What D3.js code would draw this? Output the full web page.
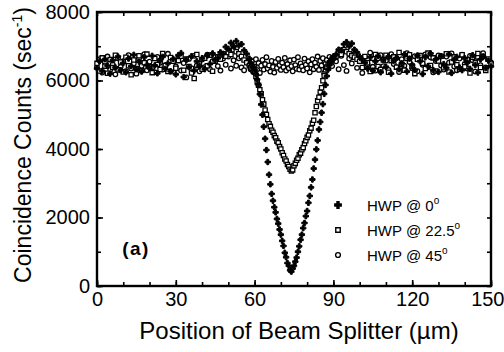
<!DOCTYPE html>
<html>
<head>
<meta charset="utf-8">
<script src="https://d3js.org/d3.v7.min.js"></script>
<style>
  body { margin: 0; background: #fff; }
  text { font-family: "Liberation Sans", Arial, sans-serif; fill: #000; }
</style>
</head>
<body>
<div id="chart"></div>
<script>
// scan positions of the beam splitter (um), finer steps across the dip
const positions = [
  0, 1, 2, 3, 4, 5, 6, 7, 8, 9, 10, 11, 12, 13, 14, 15, 16, 17, 18, 19,
  20, 21, 22, 23, 24, 25, 26, 27, 28, 29, 30, 31, 32, 33, 34, 35, 36, 37, 38, 39,
  40, 41, 42, 43, 44, 45, 46, 47, 48, 49, 50, 51, 52, 53, 54, 55, 56, 57,
  58, 58.5, 59, 59.5, 60, 60.5, 61, 61.5, 62, 62.5,
  63, 63.5, 64, 64.5, 65, 65.5, 66, 66.5, 67, 67.5,
  68, 68.5, 69, 69.5, 70, 70.5, 71, 71.5, 72, 72.5,
  73, 73.5, 74, 74.5, 75, 75.5, 76, 76.5, 77, 77.5,
  78, 78.5, 79, 79.5, 80, 80.5, 81, 81.5, 82, 82.5,
  83, 83.5, 84, 84.5, 85, 85.5, 86, 86.5, 87, 87.5,
  88, 88.5, 89, 89.5, 90,
  91, 92, 93, 94, 95, 96, 97, 98, 99, 100,
  101, 102, 103, 104, 105, 106, 107, 108, 109, 110,
  111, 112, 113, 114, 115, 116, 117, 118, 119, 120,
  121, 122, 123, 124, 125, 126, 127, 128, 129, 130,
  131, 132, 133, 134, 135, 136, 137, 138, 139, 140,
  141, 142, 143, 144, 145, 146, 147, 148, 149, 150
];

// coincidence counts (1/sec), HWP @ 0 deg
const counts0 = [
  6350, 6560, 6280, 6620, 6430, 6200, 6590, 6380, 6700, 6300,
  6510, 6240, 6640, 6420, 6750, 6330, 6550, 6260, 6680, 6450,
  6360, 6720, 6440, 6210, 6580, 6690, 6340, 6500, 6270, 6630,
  6180, 6740, 6800, 6100, 6600, 6390, 6710, 6290, 6560, 6420,
  6650, 6330, 6730, 6480, 6790, 6600, 6650, 6820, 6780, 6980,
  6920, 7100, 7000, 7150, 7020, 7060, 6880, 6780,
  6640, 6520, 6450, 6380, 6300, 6180, 6030, 5870, 5600, 5300,
  5000, 4650, 4300, 3970, 3620, 3250, 2970, 2690, 2490, 2300,
  2150, 1960, 1820, 1650, 1500, 1320, 1170, 970, 840, 670,
  590, 460, 420, 510, 590, 710, 830, 1000, 1160, 1350,
  1500, 1690, 1840, 2040, 2190, 2430, 2630, 2880, 3110, 3430,
  3690, 3990, 4250, 4570, 4790, 5060, 5310, 5610, 5870, 6130,
  6320, 6450, 6560, 6620, 6700,
  6760, 6900, 6880, 7060, 7120, 7000, 7080, 6900, 6820, 6700,
  6600, 6520, 6350, 6680, 6290, 6560, 6720, 6240, 6610, 6400,
  6700, 6200, 6580, 6660, 6330, 6500, 6760, 6260, 6640, 6450,
  6310, 6730, 6560, 6190, 6680, 6420, 6790, 6300, 6620, 6250,
  6710, 6480, 6370, 6770, 6220, 6600, 6690, 6380, 6300, 6650,
  6520, 6340, 6740, 6450, 6230, 6620, 6700, 6360, 6580, 6410
];

// HWP @ 22.5 deg
const counts225 = [
  6500, 6280, 6660, 6420, 6210, 6610, 6380, 6740, 6310, 6540,
  6250, 6680, 6430, 6170, 6600, 6350, 6720, 6290, 6520, 6770,
  6400, 6230, 6640, 6470, 6320, 6790, 6440, 6260, 6670, 6560,
  6360, 6580, 6710, 6300, 6630, 6410, 6220, 6060, 6760, 6480,
  6330, 6650, 6430, 6740, 6270, 6560, 6690, 6620, 6780, 6710,
  6820, 6760, 6900, 6840, 6780, 6700, 6600, 6520,
  6430, 6380, 6350, 6300, 6260, 6120, 5960, 5860, 5730, 5610,
  5440, 5310, 5140, 5010, 4860, 4740, 4660, 4550, 4490, 4390,
  4330, 4230, 4180, 4070, 4000, 3890, 3810, 3710, 3650, 3550,
  3490, 3410, 3360, 3390, 3510, 3580, 3670, 3730, 3830, 3880,
  3980, 4040, 4160, 4240, 4340, 4410, 4530, 4610, 4750, 4840,
  5060, 5240, 5410, 5510, 5660, 5790, 5990, 6140, 6310, 6390,
  6460, 6520, 6580, 6620, 6660,
  6700, 6820, 6760, 6900, 6840, 6780, 6720, 6680, 6620, 6560,
  6380, 6700, 6520, 6260, 6650, 6760, 6410, 6320, 6600, 6740,
  6240, 6580, 6690, 6390, 6820, 6470, 6300, 6640, 6750, 6420,
  6200, 6620, 6730, 6500, 6350, 6800, 6440, 6660, 6280, 6570,
  6710, 6370, 6780, 6250, 6540, 6690, 6460, 6330, 6750, 6400,
  6610, 6220, 6680, 6520, 6790, 6380, 6700, 6290, 6630, 6480
];

// HWP @ 45 deg
const counts45 = [
  6380, 6620, 6230, 6540, 6700, 6310, 6470, 6180, 6650, 6400,
  6560, 6270, 6740, 6350, 6500, 6200, 6640, 6430, 6770, 6300,
  6550, 6380, 6240, 6690, 6520, 6320, 6450, 6780, 6260, 6600,
  6410, 6680, 6290, 6510, 6090, 6630, 6360, 6720, 6440, 6270,
  6610, 6390, 6750, 6330, 6560, 6680, 6420, 6290, 6640, 6460,
  6700, 6350, 6590, 6430, 6650, 6380, 6300, 6540,
  6450, 6330, 6560, 6250, 6400, 6620, 6300, 6510, 6220, 6430,
  6600, 6320, 6480, 6680, 6350, 6440, 6260, 6570, 6400, 6230,
  6540, 6370, 6630, 6450, 6310, 6520, 6390, 6660, 6290, 6480,
  6360, 6590, 6420, 6270, 6610, 6450, 6340, 6680, 6320, 6500,
  6410, 6300, 6640, 6460, 6350, 6560, 6240, 6470, 6620, 6330,
  6520, 6400, 6700, 6310, 6570, 6440, 6650, 6220, 6490, 6600,
  6360, 6690, 6510, 6420, 6640,
  6560, 6330, 6720, 6450, 6280, 6640, 6500, 6780, 6370, 6600,
  6220, 6690, 6470, 6810, 6400, 6290, 6650, 6740, 6420, 6580,
  6310, 6770, 6480, 6660, 6250, 6620, 6430, 6800, 6540, 6360,
  6710, 6270, 6630, 6460, 6760, 6390, 6680, 6240, 6570, 6730,
  6440, 6320, 6700, 6520, 6790, 6410, 6300, 6640, 6750, 6480,
  6350, 6720, 6590, 6260, 6680, 6450, 6800, 6380, 6610, 6530
];

const seriesLabels = ["HWP @ 0", "HWP @ 22.5", "HWP @ 45"];
const xTickValues = [0, 30, 60, 90, 120, 150];
const yTickValues = [0, 2000, 4000, 6000, 8000];

// set the dimensions and margins of the graph
const W = 504, H = 352;
const margin = {top: 12, right: 13, bottom: 66, left: 97},
    width = W - margin.left - margin.right,
    height = H - margin.top - margin.bottom;

const svg = d3.select("#chart")
  .append("svg")
    .attr("width", W)
    .attr("height", H)
  .append("g")
    .attr("transform", `translate(${margin.left},${margin.top})`);

const x = d3.scaleLinear().domain([0, 150]).range([0, width]);
const y = d3.scaleLinear().domain([0, 8000]).range([height, 0]);

// minor ticks (no labels) on all four sides, pointing inward
const xMinor = d3.range(0, 151, 10), yMinor = d3.range(0, 8001, 1000);
svg.append("g").attr("transform", `translate(0,${height})`)
  .call(d3.axisBottom(x).tickValues(xMinor).tickSize(-4).tickFormat(""));
svg.append("g")
  .call(d3.axisTop(x).tickValues(xMinor).tickSize(-4).tickFormat(""));
svg.append("g")
  .call(d3.axisLeft(y).tickValues(yMinor).tickSize(-4).tickFormat(""));
svg.append("g").attr("transform", `translate(${width},0)`)
  .call(d3.axisRight(y).tickValues(yMinor).tickSize(-4).tickFormat(""));

// labelled axes
const xAxis = svg.append("g").attr("transform", `translate(0,${height})`)
  .call(d3.axisBottom(x).tickValues(xTickValues).tickSize(-6).tickPadding(6));
xAxis.selectAll("text").style("font-size", "20px")
  .attr("text-anchor", d => d === 150 ? "end" : "middle")
  .attr("dx", d => d === 150 ? 13 : 0);

const yAxis = svg.append("g")
  .call(d3.axisLeft(y).tickValues(yTickValues).tickSize(-6).tickPadding(7)
    .tickFormat(d3.format("d")));
yAxis.selectAll("text").style("font-size", "20px");

svg.selectAll(".domain").remove();
svg.selectAll(".tick line").attr("stroke", "#000").attr("stroke-width", 1.6);

// frame
svg.append("rect")
  .attr("width", width).attr("height", height)
  .attr("fill", "none").attr("stroke", "#000").attr("stroke-width", 2.4);

// markers
const cross = d3.symbol().type(d3.symbolCross).size(16);
const square = d3.symbol().type(d3.symbolSquare).size(18);

const pts = (counts) => positions.map((p, i) => ({p: p, c: counts[i]}));

svg.append("g").selectAll("circle")
  .data(pts(counts45))
  .join("circle")
    .attr("cx", d => x(d.p)).attr("cy", d => y(d.c)).attr("r", 2.3)
    .attr("fill", "#fff").attr("stroke", "#000").attr("stroke-width", 1.3);

svg.append("g").selectAll("path")
  .data(pts(counts225))
  .join("path")
    .attr("d", square)
    .attr("transform", d => `translate(${x(d.p)},${y(d.c)})`)
    .attr("fill", "#fff").attr("stroke", "#000").attr("stroke-width", 1.3);

svg.append("g").selectAll("path")
  .data(pts(counts0))
  .join("path")
    .attr("d", cross)
    .attr("transform", d => `translate(${x(d.p)},${y(d.c)})`)
    .attr("fill", "#000").attr("stroke", "#000").attr("stroke-width", 1);

// legend
const legend = svg.append("g").attr("transform", "translate(241,193)");
const rowGap = 25;
legend.append("path").attr("d", d3.symbol().type(d3.symbolCross).size(24))
  .attr("fill", "#000").attr("stroke", "#000").attr("stroke-width", 1.2);
legend.append("path").attr("d", d3.symbol().type(d3.symbolSquare).size(20))
  .attr("transform", `translate(0,${rowGap})`)
  .attr("fill", "#fff").attr("stroke", "#000").attr("stroke-width", 1.4);
legend.append("circle").attr("cy", rowGap * 2).attr("r", 2.4)
  .attr("fill", "#fff").attr("stroke", "#000").attr("stroke-width", 1.4);

const lt = legend.selectAll("text.lab")
  .data(seriesLabels)
  .join("text")
    .attr("class", "lab")
    .attr("x", 29)
    .attr("y", (d, i) => i * rowGap + 6)
    .style("font-size", "15px");
lt.append("tspan").text(d => d);
lt.append("tspan").attr("dy", -7).style("font-size", "10px").text("o");

// panel tag
svg.append("text")
  .attr("x", 39).attr("y", 243)
  .attr("text-anchor", "middle")
  .style("font-size", "19px").style("font-weight", "bold")
  .style("letter-spacing", "1.5px")
  .text("(a)");

// axis titles
svg.append("text")
  .attr("x", width / 2 + 5).attr("y", height + 53)
  .attr("text-anchor", "middle")
  .style("font-size", "24px")
  .text("Position of Beam Splitter (\u00b5m)");

const yl = svg.append("text")
  .attr("transform", `translate(${-66},${height / 2 - 4}) rotate(-90)`)
  .attr("text-anchor", "middle")
  .style("font-size", "23px");
yl.append("tspan").text("Coincidence Counts (sec");
yl.append("tspan").attr("dy", -9).style("font-size", "14px").text("-1");
yl.append("tspan").attr("dy", 9).text(")");
</script>
</body>
</html>
